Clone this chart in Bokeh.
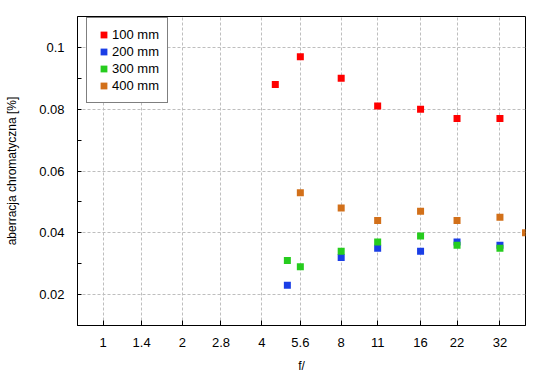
from bokeh.plotting import figure
from bokeh.models import Range1d, FixedTicker, Legend, LegendItem
from bokeh.embed import file_html
from bokeh.resources import INLINE

# ---- data ----
X_TICKS = [1, 1.4, 2, 2.8, 4, 5.6, 8, 11, 16, 22, 32]
X_LABELS = ["1", "1.4", "2", "2.8", "4", "5.6", "8", "11", "16", "22", "32"]
Y_TICKS = [0.02, 0.04, 0.06, 0.08, 0.1]
Y_LABELS = ["0.02", "0.04", "0.06", "0.08", "0.1"]
Y_MINOR = [0.03, 0.05, 0.07, 0.09]

SERIES = ["100 mm", "200 mm", "300 mm", "400 mm"]
F_100 = [4.5, 5.6, 8, 11, 16, 22, 32]
V_100 = [0.088, 0.097, 0.090, 0.081, 0.080, 0.077, 0.077]
F_200 = [5.0, 8, 11, 16, 22, 32]
V_200 = [0.023, 0.032, 0.035, 0.034, 0.037, 0.036]
F_300 = [5.0, 5.6, 8, 11, 16, 22, 32]
V_300 = [0.031, 0.029, 0.034, 0.037, 0.039, 0.036, 0.035]
F_400 = [5.6, 8, 11, 16, 22, 32, 40]
V_400 = [0.053, 0.048, 0.044, 0.047, 0.044, 0.045, 0.040]

COLORS = ["#ff0000", "#1a3ee6", "#26cc1e", "#d2701a"]
FONT = "Liberation Sans"

p = figure(width=550, height=380, x_axis_type="log",
           x_range=Range1d(0.8, 40), y_range=Range1d(0.01, 0.11),
           output_backend="svg", toolbar_location=None,
           min_border_left=77, min_border_right=25, min_border_top=16, min_border_bottom=55)
p.background_fill_color = "white"
p.border_fill_color = "white"
p.outline_line_color = "black"
p.outline_line_width = 1

xt = FixedTicker(ticks=X_TICKS, minor_ticks=[])
yt = FixedTicker(ticks=Y_TICKS, minor_ticks=Y_MINOR)
p.xaxis.ticker = xt
p.yaxis.ticker = yt
p.xgrid.ticker = xt
p.ygrid.ticker = yt
p.xaxis.major_label_overrides = {v: s for v, s in zip(X_TICKS, X_LABELS)}
p.yaxis.major_label_overrides = {v: s for v, s in zip(Y_TICKS, Y_LABELS)}

for g in (p.xgrid, p.ygrid):
    g.grid_line_color = "#bebebe"
    g.grid_line_dash = "3 2"
    g.grid_line_width = 1

for ax in (p.xaxis, p.yaxis):
    ax.axis_line_color = "black"
    ax.major_tick_line_color = "black"
    ax.minor_tick_line_color = "black"
    ax.major_tick_out = 0
    ax.minor_tick_out = 0
    ax.major_label_text_font = FONT
    ax.major_label_text_font_size = "13px"
    ax.major_label_text_color = "black"
    ax.axis_label_text_font = FONT
    ax.axis_label_text_font_size = "12px"
    ax.axis_label_text_font_style = "normal"
    ax.axis_label_text_color = "black"

p.xaxis.major_tick_in = 5
p.yaxis.major_tick_in = 4
p.yaxis.minor_tick_in = 4
p.yaxis.major_label_text_align = "right"
p.xaxis.major_label_standoff = 12
p.yaxis.major_label_standoff = 13
p.xaxis.axis_label = "f/"
p.yaxis.axis_label = "aberracja chromatyczna [%]"
p.xaxis.axis_label_standoff = 9
p.yaxis.axis_label_standoff = 17

data = [(F_100, V_100), (F_200, V_200), (F_300, V_300), (F_400, V_400)]
items = []
for (fx, vy), c, name in zip(data, COLORS, SERIES):
    r = p.scatter(fx, vy, marker="square", size=7, fill_color=c, line_color=None)
    items.append(LegendItem(label=name, renderers=[r]))

legend = Legend(items=items, location=(9, 222), margin=0, padding=8, spacing=0,
                glyph_width=17, glyph_height=17, label_height=17, label_standoff=-3,
                label_text_font=FONT, label_text_font_size="13px", label_text_color="black",
                border_line_color="black", border_line_width=1,
                background_fill_color="white", background_fill_alpha=1)
p.add_layout(legend, "center")

open("out.html", "w").write(file_html(p, INLINE))
